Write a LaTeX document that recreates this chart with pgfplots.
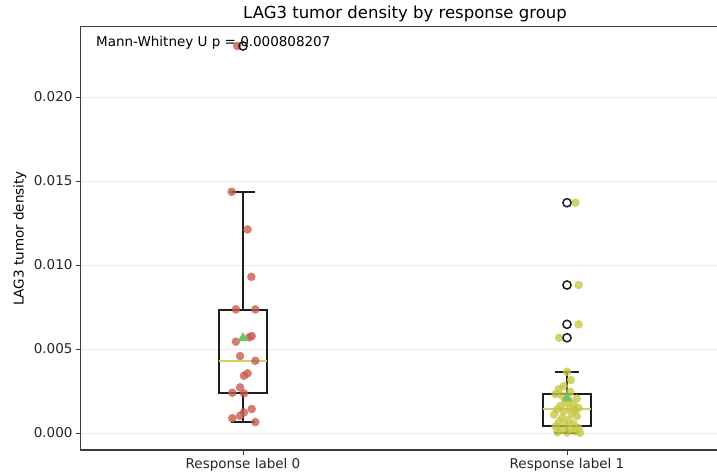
\documentclass[border=0pt]{standalone}
\usepackage{fontspec}
\setmainfont{DejaVu Sans}
\usepackage{pgfplots}
\pgfplotsset{compat=1.18}
\usepgfplotslibrary{statistics}
\definecolor{redpt}{RGB}{198,88,78}
\definecolor{yelpt}{RGB}{198,198,66}
\definecolor{medcol}{RGB}{206,212,96}
\definecolor{meangreen}{RGB}{104,200,104}
\definecolor{spine}{RGB}{60,60,60}
\definecolor{gridc}{RGB}{234,234,234}
\definecolor{boxc}{RGB}{30,30,30}

% values in units of 1e-3 (tick labels print the true density)
\pgfplotstableread{
x y
0.965 14.36
1.014 12.12
1.026 9.30
0.978 7.36
1.038 7.36
1.027 5.77
1.019 5.70
0.978 5.44
0.991 4.58
1.038 4.30
1.014 3.55
1.003 3.41
0.991 2.72
0.967 2.40
1.003 2.36
1.027 1.43
1.003 1.23
0.991 1.03
0.967 0.88
1.038 0.65
0.982 23.04
}\groupA

\pgfplotstableread{
x y
2.026 13.71
2.036 8.81
2.036 6.47
1.976 5.67
2.000 3.65
2.012 3.15
1.990 2.80
1.975 2.62
2.010 2.45
1.965 2.32
1.985 2.22
2.030 2.05
2.005 1.95
1.995 1.82
2.020 1.70
1.980 1.62
2.035 1.50
2.008 1.45
1.970 1.41
2.025 1.35
1.990 1.28
2.015 1.18
1.960 1.10
2.030 1.00
1.985 0.90
2.005 0.78
1.975 0.65
2.020 0.52
1.995 0.45
1.965 0.40
2.035 0.30
2.010 0.22
1.980 0.15
2.025 0.10
1.970 0.05
2.000 0.03
2.040 0.02
}\groupB

\begin{document}
\begin{tikzpicture}
\begin{axis}[
  scale only axis, width=648pt, height=423pt,
  xmin=0.5, xmax=2.5, ymin=-1.01, ymax=24.17,
  xtick={1,2}, xticklabels={Response label 0, Response label 1},
  ytick={0,5,10,15,20},
  yticklabel={\pgfmathparse{\tick/1000}\pgfmathprintnumber[fixed,fixed zerofill,precision=3,assume math mode=true]{\pgfmathresult}},
  tick label style={font=\fontsize{13.5}{16}\selectfont, text=black!85},
  xtick pos=bottom, ytick pos=left, tick align=outside,
  major tick length=5pt,
  every tick/.style={spine, line width=1pt},
  axis line style={spine, line width=1pt},
  ymajorgrids, grid style={gridc, line width=1pt},
  boxplot/draw direction=y,
  boxplot/every box/.style={draw=boxc, line width=1.8pt, fill=none},
  boxplot/every whisker/.style={draw=boxc, line width=1.8pt},
  boxplot/every median/.style={draw=medcol, line width=1.8pt},
  title={LAG3 tumor density by response group},
  every axis title/.style={at={(axis description cs:0.5,1)}, anchor=base, yshift=8.5pt, inner sep=0pt, font=\fontsize{16.5}{19}\selectfont},
  ylabel={LAG3 tumor density},
  every axis y label/.style={at={(axis description cs:-0.0941,0.5)}, rotate=90, anchor=center, font=\fontsize{13.5}{16}\selectfont},
]
\addplot[only marks, mark=*, mark size=4.3pt, mark options={draw opacity=0, line width=0pt, fill=redpt, fill opacity=0.78}] table[x=x,y=y] {\groupA};
\addplot[only marks, mark=*, mark size=4.3pt, mark options={draw opacity=0, line width=0pt, fill=yelpt, fill opacity=0.78}] table[x=x,y=y] {\groupB};

\addplot[boxplot prepared={draw position=1, median=4.30, upper quartile=7.32, lower quartile=2.40,
   upper whisker=14.36, lower whisker=0.65, box extend=0.15, whisker extend=0.075},
   draw=boxc, line width=1.6pt, solid, mark=o, mark size=4.1pt, mark options={draw=boxc, line width=1.5pt}]
   table[row sep=\\, y index=0] {23.04\\};
\addplot[boxplot prepared={draw position=2, median=1.41, upper quartile=2.32, lower quartile=0.43,
   upper whisker=3.65, lower whisker=0.02, box extend=0.15, whisker extend=0.075},
   draw=boxc, line width=1.6pt, solid, mark=o, mark size=4.1pt, mark options={draw=boxc, line width=1.5pt}]
   table[row sep=\\, y index=0] {13.71\\ 8.81\\ 6.47\\ 5.67\\};

\addplot[only marks, mark=triangle*, mark size=6pt, mark options={draw opacity=0, fill=meangreen}] coordinates {(1,5.65) (2,2.08)};

\node[anchor=base west, inner sep=0pt, font=\fontsize{13.5}{16}\selectfont] at (axis description cs:0.0231,0.9539) {Mann-Whitney U p = 0.000808207};
\end{axis}
\pgfresetboundingbox
\path[use as bounding box] ([xshift=-81pt,yshift=-26pt]current axis.south west) rectangle ([xshift=-12pt,yshift=27pt]current axis.north east);
\end{tikzpicture}
\end{document}
